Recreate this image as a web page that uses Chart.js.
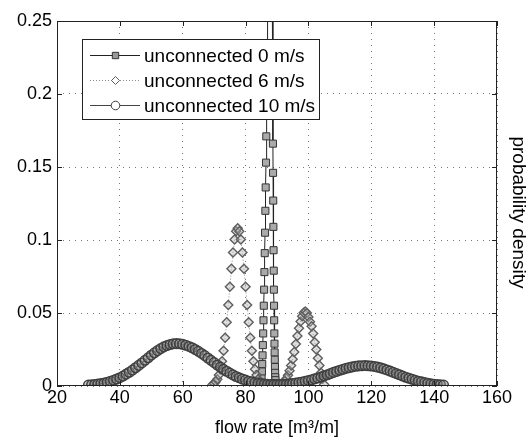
<!DOCTYPE html>
<html>
<head>
<meta charset="utf-8">
<script src="https://cdn.jsdelivr.net/npm/chart.js@4.4.0/dist/chart.umd.min.js"></script>
<style>
  html, body { margin: 0; padding: 0; background: #fff; }
  #wrap { width: 529px; height: 437px; }
</style>
</head>
<body>
<div id="wrap"><canvas id="grafico" width="529" height="437"></canvas></div>
<script>
const xTicks = [20, 40, 60, 80, 100, 120, 140, 160];
const xTickLabels = ['20', '40', '60', '80', '100', '120', '140', '160'];
const yTicks = [0, 0.05, 0.1, 0.15, 0.2, 0.25];
const yTickLabels = ['0', '0.05', '0.1', '0.15', '0.2', '0.25'];
const seriesNames = ['unconnected 0 m/s', 'unconnected 6 m/s', 'unconnected 10 m/s'];
const xTitle = 'flow rate [m³/m]';
const yTitle = 'probability density';

// 0 m/s
const x0 = [84.9, 85.0, 85.1, 85.2, 85.3, 85.4, 85.5, 85.6, 85.7, 85.8, 85.9, 86.0, 86.1, 86.2, 86.3, 86.4, 86.5, 86.6, 86.7, 86.8, 86.9, 87.0,
  87.3, 87.6, 87.9, 88.2, 88.5,
  88.7, 88.75, 88.8, 88.85, 88.9, 88.95, 89.0, 89.05, 89.1, 89.15, 89.2, 89.25, 89.3, 89.35, 89.4, 89.45, 89.5, 89.55, 89.6];
const y0 = [0.001, 0.003, 0.006, 0.010, 0.015, 0.021, 0.028, 0.036, 0.045, 0.055, 0.066, 0.078, 0.091, 0.105, 0.120, 0.136, 0.153, 0.171, 0.190, 0.210, 0.231, 0.253,
  0.30, 0.33, 0.33, 0.31, 0.27,
  0.166, 0.146, 0.127, 0.109, 0.093, 0.079, 0.066, 0.055, 0.045, 0.036, 0.029, 0.023, 0.018, 0.013, 0.009, 0.006, 0.004, 0.002, 0.001];

// 6 m/s
const x6 = [69.5, 70, 70.5, 71, 71.5, 72, 72.5, 73, 73.5, 74, 74.5, 75, 75.5, 76, 76.5, 77, 77.5,
  78, 78.5, 79, 79.5, 80, 80.5, 81, 81.5, 82, 82.5, 83, 83.5, 84, 84.5, 85, 85.5,
  86, 86.5, 87, 87.5, 88, 88.5,
  89, 89.5, 90, 90.5, 91, 91.5, 92, 92.5, 93, 93.5, 94, 94.5, 95, 95.5, 96, 96.5, 97, 97.5, 98, 98.5, 99,
  99.5, 100, 100.5, 101, 101.5, 102, 102.5, 103, 103.5, 104, 104.5, 105];
const y6 = [0.0010, 0.0017, 0.0029, 0.0047, 0.0075, 0.0115, 0.0170, 0.0242, 0.0331, 0.0436, 0.0555, 0.0680, 0.0803, 0.0914, 0.1003, 0.1060, 0.1080,
  0.1060, 0.1003, 0.0914, 0.0803, 0.0680, 0.0555, 0.0436, 0.0331, 0.0242, 0.0170, 0.0115, 0.0075, 0.0047, 0.0029, 0.0017, 0.0010,
  0.0005, 0.0003, 0.0001, 0.0001, 0.0000, 0.0000,
  0.0001, 0.0002, 0.0003, 0.0005, 0.0009, 0.0014, 0.0022, 0.0034, 0.0051, 0.0074, 0.0104, 0.0140, 0.0184, 0.0233, 0.0287, 0.0342, 0.0395, 0.0442, 0.0478, 0.0502, 0.0510,
  0.0500, 0.0472, 0.0440, 0.0410, 0.0360, 0.0300, 0.0250, 0.0190, 0.0140, 0.0090, 0.0050, 0.0010];

// 10 m/s
const x10 = [30, 31, 32, 33, 34, 35, 36, 37, 38, 39, 40, 41, 42, 43, 44, 45, 46, 47, 48, 49,
  50, 51, 52, 53, 54, 55, 56, 57, 58, 59, 60, 61, 62, 63, 64, 65, 66, 67, 68, 69,
  70, 71, 72, 73, 74, 75, 76, 77, 78, 79, 80, 81, 82, 83, 84, 85, 86, 87, 88, 89,
  90, 91, 92, 93, 94, 95, 96, 97, 98, 99, 100, 101, 102, 103, 104, 105, 106, 107, 108, 109,
  110, 111, 112, 113, 114, 115, 116, 117, 118, 119, 120, 121, 122, 123, 124, 125, 126, 127, 128, 129,
  130, 131, 132, 133, 134, 135, 136, 137, 138, 139, 140, 141, 142, 143];
const y10 = [0.0006, 0.0008, 0.0010, 0.0013, 0.0016, 0.0021, 0.0026, 0.0032, 0.0039, 0.0048, 0.0057, 0.0068, 0.0081, 0.0094, 0.0109, 0.0125, 0.0141, 0.0158, 0.0176, 0.0193,
  0.0211, 0.0227, 0.0242, 0.0256, 0.0268, 0.0277, 0.0284, 0.0289, 0.0290, 0.0289, 0.0285, 0.0279, 0.0271, 0.0262, 0.0250, 0.0237, 0.0223, 0.0208, 0.0192, 0.0176,
  0.0160, 0.0144, 0.0129, 0.0114, 0.0101, 0.0088, 0.0076, 0.0065, 0.0056, 0.0047, 0.0040, 0.0033, 0.0028, 0.0023, 0.0019, 0.0016, 0.0013, 0.0012, 0.0010, 0.0010,
  0.0010, 0.0010, 0.0011, 0.0012, 0.0014, 0.0017, 0.0020, 0.0023, 0.0027, 0.0032, 0.0037, 0.0042, 0.0049, 0.0055, 0.0062, 0.0070, 0.0077, 0.0085, 0.0093, 0.0100,
  0.0108, 0.0114, 0.0121, 0.0126, 0.0131, 0.0135, 0.0138, 0.0139, 0.0140, 0.0139, 0.0137, 0.0134, 0.0129, 0.0124, 0.0117, 0.0110, 0.0102, 0.0093, 0.0085, 0.0077,
  0.0068, 0.0060, 0.0053, 0.0046, 0.0039, 0.0033, 0.0028, 0.0023, 0.0019, 0.0015, 0.0012, 0.0010, 0.0008, 0.0006];

function pontos(xs, ys) {
  return xs.map((x, i) => ({ x: x, y: ys[i] }));
}

const familia = 'Liberation Sans, Arial, Helvetica, sans-serif';
const fonte = { family: familia, size: 18 };

// box, inner ticks, legend and right label drawn like matlab
const moldura = {
  id: 'moldura',
  afterDatasetsDraw(chart) {
    const ctx = chart.ctx;
    const a = chart.chartArea;
    const sx = chart.scales.x, sy = chart.scales.y;
    ctx.save();
    ctx.strokeStyle = '#222';
    ctx.lineWidth = 1;
    ctx.strokeRect(Math.round(a.left) + 0.5, Math.round(a.top) + 0.5, Math.round(a.right - a.left) - 1, Math.round(a.bottom - a.top) - 1);
    ctx.beginPath();
    xTicks.forEach(v => {
      const px = Math.round(sx.getPixelForValue(v)) + 0.5;
      ctx.moveTo(px, a.bottom); ctx.lineTo(px, a.bottom - 5);
      ctx.moveTo(px, a.top); ctx.lineTo(px, a.top + 5);
    });
    yTicks.forEach(v => {
      const py = Math.round(sy.getPixelForValue(v)) + 0.5;
      ctx.moveTo(a.left, py); ctx.lineTo(a.left + 5, py);
      ctx.moveTo(a.right, py); ctx.lineTo(a.right - 5, py);
    });
    ctx.stroke();
    ctx.restore();
  },
  afterDraw(chart) {
    const ctx = chart.ctx;
    const a = chart.chartArea;
    ctx.save();
    ctx.fillStyle = '#fff';
    ctx.fillRect(82, 39, 238, 80);
    ctx.strokeStyle = '#222';
    ctx.lineWidth = 1;
    ctx.strokeRect(82.5, 39.5, 237, 80);
    chart.data.datasets.forEach((ds, i) => {
      const y = 55.5 + i * 25;
      ctx.save();
      ctx.strokeStyle = ds.borderColor;
      ctx.lineWidth = 1;
      ctx.setLineDash(ds.borderDash || []);
      ctx.beginPath();
      ctx.moveTo(90, y); ctx.lineTo(140, y);
      ctx.stroke();
      ctx.restore();
      ctx.save();
      ctx.fillStyle = ds.legendFill;
      ctx.strokeStyle = ds.pointBorderColor;
      ctx.lineWidth = 1;
      Chart.helpers.drawPoint(ctx, { pointStyle: ds.pointStyle, radius: ds.pointRadius - 0.5, rotation: 0, borderWidth: 1 }, 115.5, y);
      ctx.restore();
      ctx.fillStyle = '#000';
      ctx.font = '19px ' + familia;
      ctx.textBaseline = 'middle';
      ctx.textAlign = 'left';
      ctx.fillText(ds.label, 144, y + 1);
    });
    // right side label
    ctx.translate(518, (a.top + a.bottom) / 2 + 9);
    ctx.rotate(Math.PI / 2);
    ctx.fillStyle = '#000';
    ctx.font = '19px ' + familia;
    ctx.textAlign = 'center';
    ctx.textBaseline = 'middle';
    ctx.fillText(yTitle, 0, 0);
    ctx.restore();
  }
};

const grafico = document.getElementById('grafico');

new Chart(grafico, {
  type: 'line',
  data: {
    datasets: [{
      label: seriesNames[0],
      data: pontos(x0, y0),
      borderColor: '#222',
      borderWidth: 1,
      pointStyle: 'rect',
      pointRadius: 5,
      pointBorderColor: '#333',
      pointBackgroundColor: '#aaa',
      legendFill: '#999',
      pointBorderWidth: 1,
      order: 3
    }, {
      label: seriesNames[1],
      data: pontos(x6, y6),
      borderColor: '#888',
      borderDash: [1, 2],
      borderWidth: 1,
      pointStyle: 'rectRot',
      pointRadius: 4.5,
      pointBorderColor: '#5e5e5e',
      pointBackgroundColor: 'rgba(180,180,180,0.4)',
      legendFill: '#fff',
      pointBorderWidth: 1.4,
      order: 2
    }, {
      label: seriesNames[2],
      data: pontos(x10, y10),
      borderColor: '#444',
      borderWidth: 1,
      pointStyle: 'circle',
      pointRadius: 4.8,
      pointBorderColor: '#3e3e3e',
      pointBackgroundColor: 'rgba(130,130,130,0.4)',
      legendFill: '#fff',
      pointBorderWidth: 1.5,
      order: 1
    }]
  },
  options: {
    responsive: false,
    animation: false,
    layout: { padding: { top: 21, left: 0, right: 32, bottom: 0 } },
    plugins: {
      legend: { display: false },
      tooltip: { enabled: false }
    },
    scales: {
      x: {
        type: 'linear',
        min: 20,
        max: 160,
        afterBuildTicks: s => { s.ticks = xTicks.map(v => ({ value: v })); },
        afterFit: s => { s.height = 51; },
        ticks: {
          color: '#000',
          font: fonte,
          padding: 1,
          maxRotation: 0,
          callback: (v, i) => xTickLabels[i]
        },
        grid: { color: '#777', drawTicks: false },
        border: { display: false, dash: [1, 5] },
        title: {
          display: true,
          text: xTitle,
          color: '#000',
          font: { family: familia, size: 18, lineHeight: 1 },
          padding: { top: 0, bottom: 0 }
        }
      },
      y: {
        type: 'linear',
        min: 0,
        max: 0.25,
        afterBuildTicks: s => { s.ticks = yTicks.map(v => ({ value: v })); },
        afterFit: s => { s.width = 57; },
        ticks: {
          color: '#000',
          font: fonte,
          padding: 5,
          callback: (v, i) => yTickLabels[i]
        },
        grid: { color: '#777', drawTicks: false },
        border: { display: false, dash: [1, 5] }
      }
    }
  },
  plugins: [moldura]
});
</script>
</body>
</html>
